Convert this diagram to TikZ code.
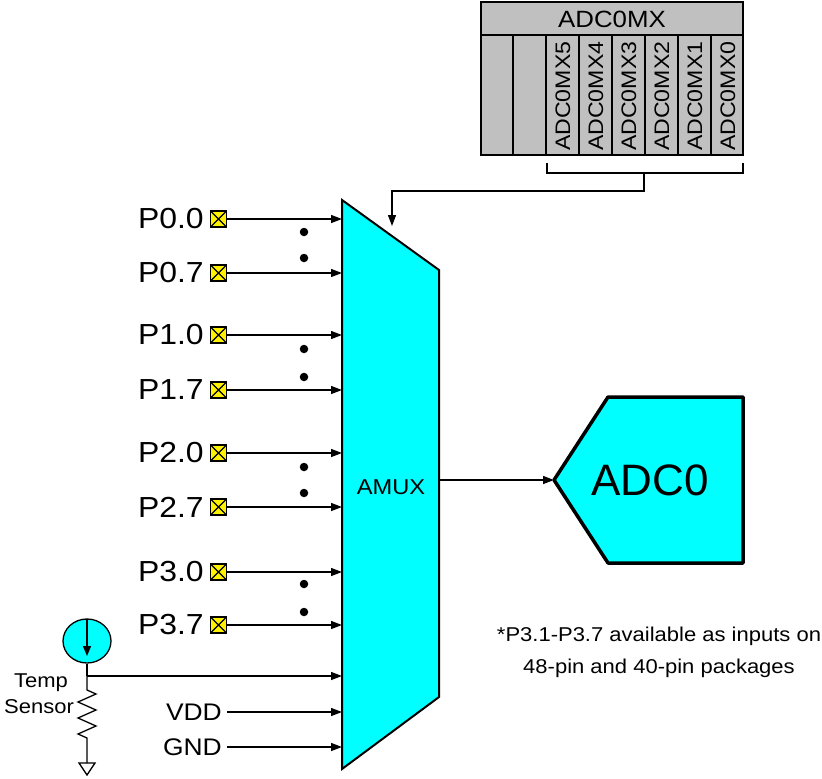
\documentclass[tikz,border=0pt]{standalone}
\usepackage{fontspec}
\setmainfont{Liberation Sans}[FakeStretch=1.1]
\newfontfamily\plainsans{Liberation Sans}
\usetikzlibrary{arrows.meta,positioning,shapes.geometric}
\definecolor{regGray}{RGB}{192,192,192}
\definecolor{aqua}{RGB}{0,255,255}
\begin{document}
\begin{tikzpicture}[x=1pt,y=-1pt,
  pinbox/.style={draw, fill=yellow, minimum size=16pt, inner sep=0pt, line width=1.2pt,
    path picture={\draw[line width=1.1pt] (path picture bounding box.south west)--(path picture bounding box.north east)
      (path picture bounding box.north west)--(path picture bounding box.south east);}},
  pinlbl/.style={font=\fontsize{29}{31}\selectfont, inner sep=0pt},
  sig/.style={-{Triangle[length=11pt,width=8pt]}, line width=1.3pt},
  wire/.style={line width=1.3pt},
  dotm/.style={circle, fill=black, inner sep=0pt, minimum size=8.5pt},
  regcell/.style={draw, fill=regGray, line width=1.3pt},
  bitlbl/.style={rotate=90, anchor=west, font=\fontsize{21}{22}\selectfont, inner sep=0pt},
  blockfill/.style={fill=aqua, draw=black},
  small/.style={font=\fontsize{20}{24}\selectfont, inner sep=0pt}
]
\useasboundingbox (0,0) rectangle (822,779);

% ---------- register ADC0MX ----------
\draw[regcell] (481,2) rectangle (743,155);
\draw[line width=1.3pt] (481,35) -- (743,35);
\node[font=\fontsize{23.5}{25}\selectfont, inner sep=0pt] (regtitle) at (612,19) {ADC0MX};
\foreach \xx in {513,546,579,612,645,678,711} {
  \draw[line width=1.3pt] (\xx,35) -- (\xx,155);
}
\foreach \i/\xx in {5/563,4/596,3/629,2/662,1/695,0/728} {
  \node[bitlbl] (bit\i) at (\xx,151) {ADC0MX\i};
}
% bracket
\coordinate (brL) at (547,163);
\coordinate (brR) at (743,163);
\coordinate (brM) at (644,173);
\coordinate (brE) at (392,191);
\coordinate (muxtop) at (392,226);
\draw[wire] (brL) -- (547,173) -- (743,173) -- (brR);
\draw[sig] (brM) -- (644,191) -- (brE) -- (muxtop);

% ---------- AMUX ----------
\draw[blockfill, line width=2pt] (342,200) -- (439,270) -- (439,697) -- (342,769) -- cycle;
\node[font=\fontsize{21.5}{24}\selectfont, inner sep=0pt] (amux) at (391,487) {AMUX};

% ---------- port pins ----------
\foreach \n/\t/\yy in {p00/P0.0/219, p07/P0.7/273, p10/P1.0/335, p17/P1.7/390,
                       p20/P2.0/453, p27/P2.7/507, p30/P3.0/572, p37/P3.7/625} {
  \node[pinbox] (\n) at (218.5,\yy) {};
  \node[pinlbl, left=6pt of \n] (\n lbl) {\t};
  \coordinate (\n in) at (342,\yy);
  \draw[sig] (\n) -- (\n in);
}
\foreach \yy in {232,258,349,377,467,493,584,612} {
  \node[dotm] at (304,\yy) {};
}

% ---------- temp sensor ----------
\node[draw, fill=aqua, ellipse, minimum width=48pt, minimum height=44pt, line width=1.3pt, inner sep=0pt] (ts) at (87,641) {};
\coordinate (tsA) at (87,619);
\coordinate (tsB) at (87,656);
\draw[-{Triangle[length=10pt,width=8pt]}, line width=1.3pt] (tsA) -- (tsB);
\coordinate (tsj) at (87,676);
\coordinate (tsin) at (342,676);
\draw[wire] (ts.south) -- (tsj);
\draw[sig] (tsj) -- (tsin);
\draw[wire, line join=miter] (tsj) -- (87,690) -- (96,694) -- (78,702) -- (96,710) -- (78,718) -- (96,726) -- (78,734) -- (87,738) -- (87,763);
\coordinate (gnd) at (87,763);
\draw[line width=1.3pt] (gnd) -- (79,763) -- (87,775) -- (95,763) -- cycle;
\node[small, anchor=base] (templbl) at (41,687) {Temp};
\node[small, anchor=base] (senslbl) at (39,713) {Sensor};

% ---------- VDD / GND ----------
\node[anchor=east, inner sep=0pt, font=\fontsize{24}{26}\selectfont] (vdd) at (222,712) {VDD};
\node[anchor=east, inner sep=0pt, font=\fontsize{24}{26}\selectfont] (gndl) at (222,747) {GND};
\coordinate (vddin) at (342,712);
\coordinate (gndin) at (342,747);
\draw[sig] (vdd.east) ++(5,0) -- (vddin);
\draw[sig] (gndl.east) ++(5,0) -- (gndin);

% ---------- ADC0 ----------
\draw[blockfill, line width=3.5pt, line join=round] (554,480) -- (608,397) -- (743,397) -- (743,563) -- (608,563) -- cycle;
\node[font=\plainsans\fontsize{44}{46}\selectfont, inner sep=0pt] (adc) at (650,480) {ADC0};
\coordinate (muxout) at (439,480);
\coordinate (adcin) at (554,480);
\draw[sig] (muxout) -- (adcin);

% ---------- note ----------
\node[small, align=center, font=\fontsize{20}{32}\selectfont] (note) at (659,652)
  {*P3.1-P3.7 available as inputs on\\48-pin and 40-pin packages};
\end{tikzpicture}
\end{document}
